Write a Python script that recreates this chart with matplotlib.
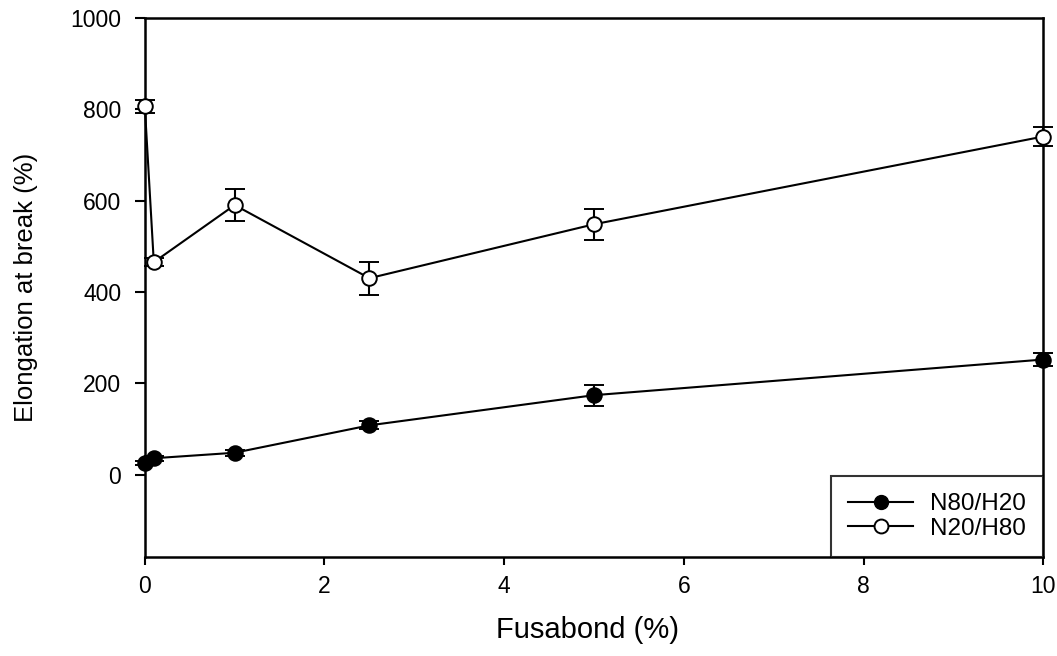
import matplotlib.pyplot as plt
from matplotlib.lines import Line2D

plt.rcParams['font.family'] = ['Liberation Sans', 'DejaVu Sans']

fusabond = [0, 0.1, 1, 2.5, 5, 10]

# N80/H20 (filled circles)
n80_mean = [26, 36, 48, 108, 174, 252]
n80_err = [4, 5, 7, 9, 23, 15]

# N20/H80 (open circles)
n20_mean = [806, 465, 590, 430, 548, 740]
n20_err = [15, 9, 35, 36, 34, 21]

series_names = ['N80/H20', 'N20/H80']

fig = plt.figure(figsize=(10.57, 6.56), dpi=100)
ax = fig.add_axes([0.137, 0.151, 0.850, 0.822])

for mean, err, fill in [(n80_mean, n80_err, 'black'), (n20_mean, n20_err, 'white')]:
    ax.errorbar(fusabond, mean, yerr=err, color='black', lw=1.5,
                marker='o', ms=10.5, mfc=fill, mec='black', mew=1.4,
                ecolor='black', elinewidth=1.5, capsize=7, capthick=1.6,
                zorder=3, clip_on=False)

ax.set_xlim(0, 10)
ax.set_ylim(-180, 1000)
ax.set_xticks([0, 2, 4, 6, 8, 10])
ax.set_yticks([0, 200, 400, 600, 800, 1000])
ax.tick_params(direction='out', width=1.5, labelsize=16.5, top=False, right=False)
ax.tick_params(axis='y', length=7, pad=10)
ax.tick_params(axis='x', length=6, pad=7)
for s in ax.spines.values():
    s.set_linewidth(1.8)

ax.set_xlabel('Fusabond (%)', fontsize=21)
ax.set_ylabel('Elongation at break (%)', fontsize=18.5)
ax.xaxis.set_label_coords(0.493, -0.11)
ax.yaxis.set_label_coords(-0.119, 0.5)

handles = [Line2D([], [], color='black', lw=1.5, marker='o', ms=10, mfc='black', mec='black'),
           Line2D([], [], color='black', lw=1.5, marker='o', ms=10, mfc='white', mec='black', mew=1.4)]
leg = ax.legend(handles, series_names, loc='lower right', fontsize=17.5,
                frameon=True, fancybox=False, edgecolor='black',
                borderaxespad=0, handlelength=2.7, handletextpad=0.7,
                borderpad=0.7, labelspacing=0.1)
leg.get_frame().set_linewidth(1.5)

fig.savefig('out.png', dpi=100)
